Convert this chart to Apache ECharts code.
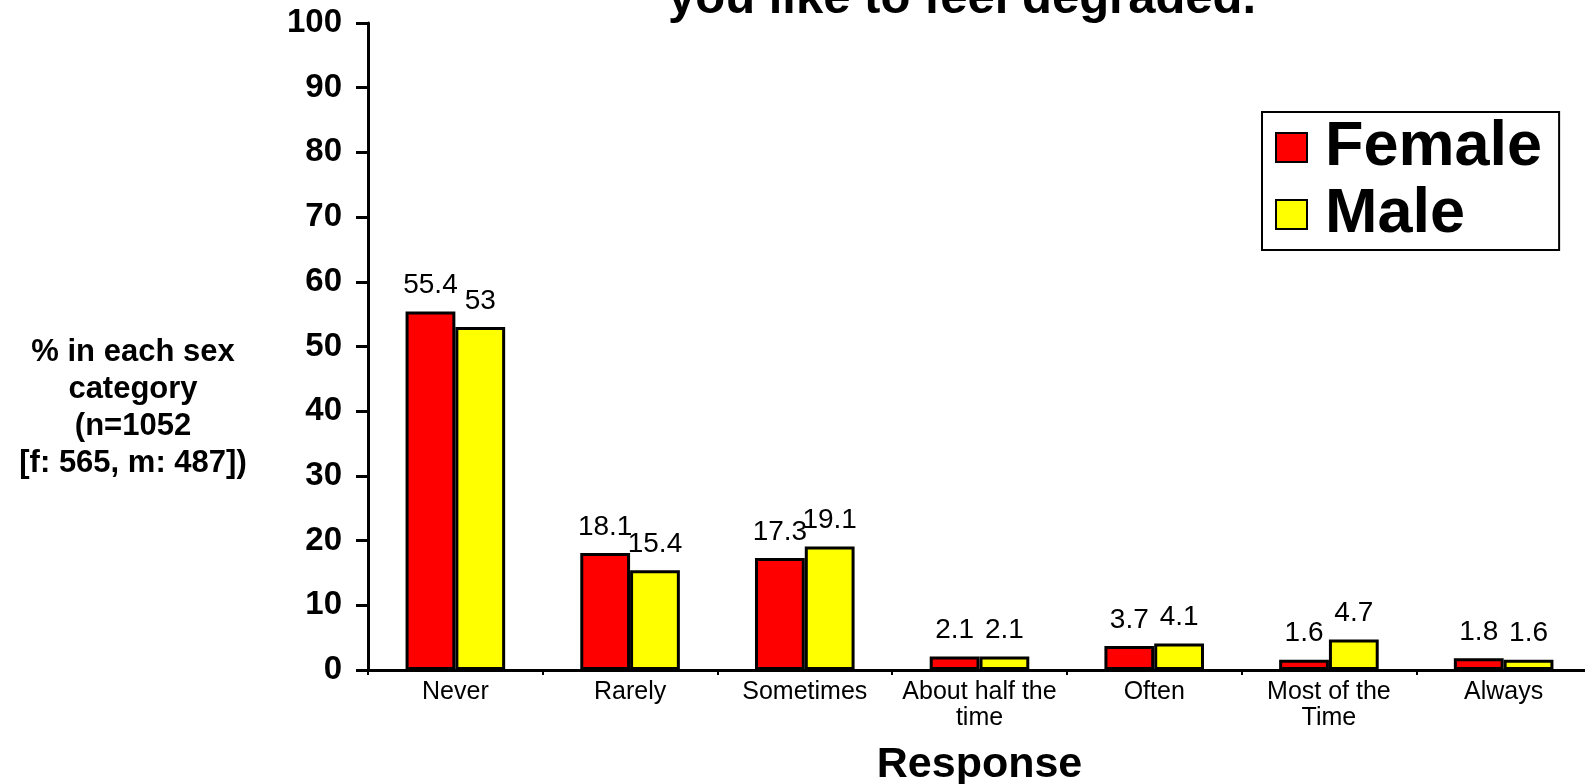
<!DOCTYPE html>
<html>
<head>
<meta charset="utf-8">
<script src="https://cdn.jsdelivr.net/npm/echarts@6/dist/echarts.min.js"></script>
<style>
html,body{margin:0;padding:0;background:#fff;}
#chart{width:1585px;height:784px;}
</style>
</head>
<body>
<div id="chart"></div>
<script>
var categories = ['Never', 'Rarely', 'Sometimes', 'About half the\ntime', 'Often', 'Most of the\nTime', 'Always'];
var femaleValues = [55.4, 18.1, 17.3, 2.1, 3.7, 1.6, 1.8];
var maleValues = [53, 15.4, 19.1, 2.1, 4.1, 4.7, 1.6];
var seriesNames = ['Female', 'Male'];
var titleText = 'you like to feel degraded.';
var yAxisTitle = '% in each sex\ncategory\n(n=1052\n[f: 565, m: 487])';
var xAxisTitle = 'Response';

var FONT = '"Liberation Sans", Arial, Helvetica, sans-serif';
var chart = echarts.init(document.getElementById('chart'), null, {renderer: 'canvas'});

function barSeries(name, data, color) {
  return {
    name: name,
    type: 'bar',
    data: data,
    barGap: '0%',
    barCategoryGap: '43%',
    itemStyle: {color: color, borderColor: '#000', borderWidth: 3},
    label: {
      show: true,
      position: 'top',
      distance: 12,
      color: '#000',
      fontFamily: FONT,
      fontSize: 28
    },
    emphasis: {disabled: true}
  };
}

chart.setOption({
  animation: false,
  backgroundColor: '#fff',
  title: [{
    text: titleText,
    left: 668,
    top: -25,
    padding: 0,
    textStyle: {fontFamily: FONT, fontWeight: 'bold', fontSize: 49, lineHeight: 49, color: '#000'}
  }, {
    text: yAxisTitle,
    left: 133,
    top: 334,
    textAlign: 'center',
    padding: 0,
    textStyle: {fontFamily: FONT, fontWeight: 'bold', fontSize: 31, lineHeight: 37, color: '#000', align: 'center'}
  }],
  legend: {
    orient: 'vertical',
    left: 1262,
    top: 112,
    padding: [4, 17, 4, 13],
    itemGap: 4,
    itemWidth: 31,
    itemHeight: 29,
    icon: 'rect',
    borderColor: '#000',
    borderWidth: 2,
    data: seriesNames,
    itemStyle: {borderColor: '#000', borderWidth: 2},
    textStyle: {fontFamily: FONT, fontWeight: 'bold', fontSize: 63, lineHeight: 62, color: '#000', padding: [0, 0, 0, 13]}
  },
  grid: {left: 368, right: -6, top: 23, bottom: 114, containLabel: false, outerBoundsMode: 'none'},
  xAxis: {
    type: 'category',
    data: categories,
    name: xAxisTitle,
    nameLocation: 'middle',
    nameGap: 95,
    nameTextStyle: {fontFamily: FONT, fontWeight: 'bold', fontSize: 43, color: '#000', verticalAlign: 'middle'},
    axisLine: {lineStyle: {color: '#000', width: 3}},
    axisTick: {show: true, alignWithLabel: false, length: 5, lineStyle: {color: '#000', width: 2}},
    axisLabel: {interval: 0, margin: 9, color: '#000', fontFamily: FONT, fontSize: 25, lineHeight: 26},
    splitLine: {show: false}
  },
  yAxis: {
    type: 'value',
    min: 0,
    max: 100,
    interval: 10,
    axisLine: {show: true, lineStyle: {color: '#000', width: 3}},
    axisTick: {show: true, inside: false, length: 12, lineStyle: {color: '#000', width: 3}},
    axisLabel: {margin: 26, color: '#000', fontFamily: FONT, fontWeight: 'bold', fontSize: 33},
    splitLine: {show: false}
  },
  series: [
    barSeries(seriesNames[0], femaleValues, '#FF0000'),
    barSeries(seriesNames[1], maleValues, '#FFFF00')
  ]
});
</script>
</body>
</html>
